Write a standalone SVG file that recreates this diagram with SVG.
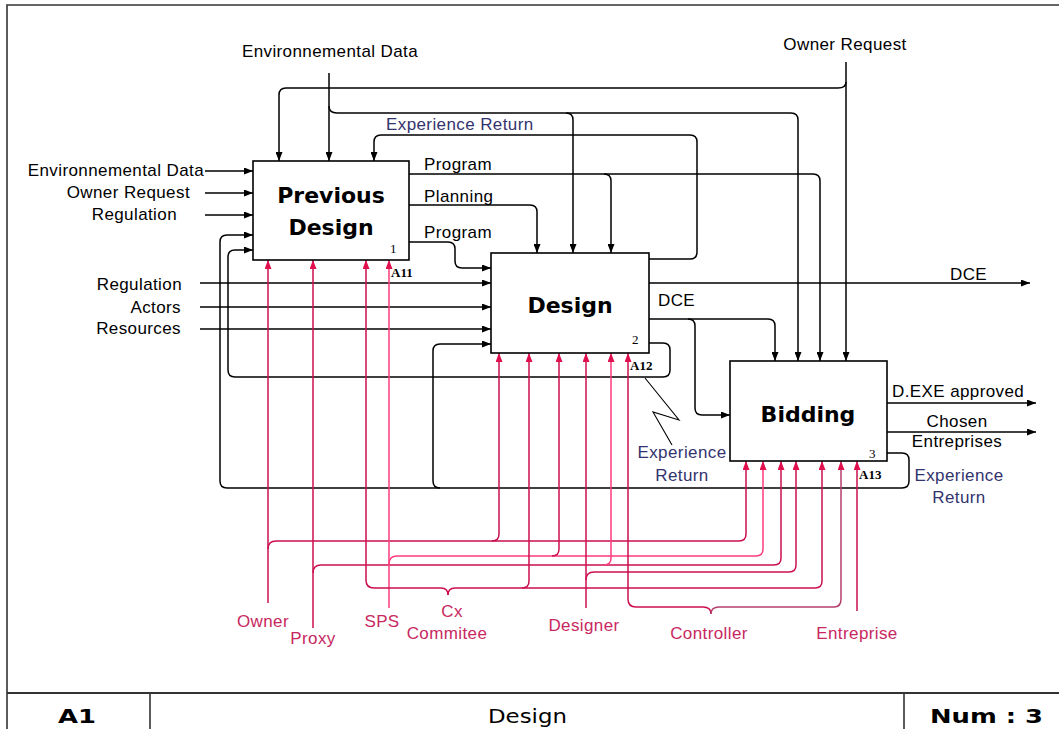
<svg xmlns="http://www.w3.org/2000/svg" width="1059" height="729" viewBox="0 0 1059 729">
<defs>
<marker id="ab" markerUnits="userSpaceOnUse" markerWidth="9" markerHeight="7" refX="9" refY="3.5" orient="auto"><path d="M0,0 L9,3.5 L0,7 z" fill="#000"/></marker>
<marker id="ar" markerUnits="userSpaceOnUse" markerWidth="9" markerHeight="7" refX="9" refY="3.5" orient="auto"><path d="M0,0 L9,3.5 L0,7 z" fill="#e0104f"/></marker>
<style>
.t{font-family:"Liberation Sans",Arial,sans-serif;font-size:17px;letter-spacing:0.4px;fill:#000}
.b{fill:#33336e}
.r{fill:#c8285f}
.box{fill:#fff;stroke:#000;stroke-width:1.6}
.title{font-family:"DejaVu Sans",Verdana,sans-serif;font-weight:bold;font-size:22px;fill:#000;text-anchor:middle}
.num{font-family:"Liberation Serif","Times New Roman",serif;font-size:13px;fill:#000}
.ref{font-family:"Liberation Serif","Times New Roman",serif;font-size:13px;font-weight:bold;fill:#000}
.k{fill:none;stroke:#000;stroke-width:1.5}
.ka{fill:none;stroke:#000;stroke-width:1.5;marker-end:url(#ab)}
.m{fill:none;stroke:#cc0f4f;stroke-width:1.5}
.ma{fill:none;stroke:#cc0f4f;stroke-width:1.5;marker-end:url(#ar)}
.p{stroke:#ff3c7c}
.q{stroke:#b4406e}
.mid{text-anchor:middle}
.end{text-anchor:end}
.foot{font-family:"DejaVu Sans",Verdana,sans-serif;font-size:19px;fill:#000}
</style>
</defs>
<rect x="0" y="0" width="1059" height="729" fill="#fff"/>
<g id="frame" fill="none" stroke="#333" stroke-width="1.6">
<path d="M7,729 V5 H1059"/>
<path d="M7,693 H1059" stroke-width="2"/>
<path d="M150,693 V729 M904,693 V729"/>
</g>
<g id="footer">
<text class="foot" x="58" y="723" font-weight="bold" textLength="38" lengthAdjust="spacingAndGlyphs">A1</text>
<text class="foot" x="488" y="723" textLength="79" lengthAdjust="spacingAndGlyphs">Design</text>
<text class="foot" x="930" y="723" font-weight="bold" textLength="113" lengthAdjust="spacingAndGlyphs">Num : 3</text>
</g>
<g id="connectors">
<path class="ka" d="M329,73 V161"/>
<path class="ka" d="M329,106 Q329,113 337,113 H791 Q798,113 798,120 V361"/>
<path class="ka" d="M566,113 Q573,113 573,120 V253"/>
<path class="ka" d="M846,62 V361"/>
<path class="ka" d="M846,82 Q846,88 838,88 H286 Q279,88 279,95 V161"/>
<path class="ka" d="M409,174 H813 Q820,174 820,181 V361"/>
<path class="ka" d="M604,174 Q611,174 611,181 V253"/>
<path class="ka" d="M409,205 H530 Q537,205 537,212 V253"/>
<path class="ka" d="M409,242 H448 Q455,242 455,249 V261 Q455,268 462,268 H491"/>
<path class="ka" d="M205,171 H253"/>
<path class="ka" d="M205,193 H253"/>
<path class="ka" d="M205,215 H253"/>
<path class="ka" d="M200,283 H491"/>
<path class="ka" d="M200,307 H491"/>
<path class="ka" d="M200,329 H491"/>
<path class="ka" d="M887,453 H902 Q909,453 909,460 V481 Q909,488 902,488 H227 Q220,488 220,481 V242 Q220,235 227,235 H253"/>
<path class="ka" d="M440,488 Q433,488 433,481 V351 Q433,344 440,344 H491"/>
<path class="ka" d="M649,343 H663 Q670,343 670,350 V370 Q670,377 663,377 H235 Q228,377 228,370 V257 Q228,250 235,250 H253"/>
<path class="ka" d="M649,259 H690 Q697,259 697,252 V142 Q697,135 690,135 H381 Q374,135 374,142 V161"/>
<path fill="none" stroke="#000" stroke-width="1.1" d="M645,378 L679,420 L653,412 L672,445"/>
<path class="ka" d="M649,283 H1030"/>
<path class="ka" d="M649,319 H768 Q775,319 775,326 V361"/>
<path class="ka" d="M688,319 Q695,319 695,326 V408 Q695,415 702,415 H730"/>
<path class="ka" d="M887,403 H1036"/>
<path class="ka" d="M887,432 H1036"/>
<path class="ma" d="M268,603 V260"/>
<path class="ma" d="M268,549 Q268,541 276,541 H739 Q746,541 746,534 V461"/>
<path class="ma" d="M492,541 Q499,541 499,534 V353"/>
<path class="ma" d="M313,628 V260"/>
<path class="ma" d="M313,573 Q313,565 321,565 H774 Q781,565 781,558 V461"/>
<path class="ma p" d="M604,565 Q611,565 611,558 V353"/>
<path class="ma p" d="M389,608 V260"/>
<path class="ma p" d="M389,564 Q389,556 397,556 H756 Q763,556 763,549 V461"/>
<path class="ma" d="M552,556 Q559,556 559,549 V353"/>
<path class="ma" d="M448,595 Q448,588 441,588 H374 Q366,588 366,580 V260"/>
<path class="ma" d="M448,595 Q448,588 455,588 H815 Q822,588 822,581 V461"/>
<path class="ma" d="M522,588 Q529,588 529,581 V353"/>
<path class="ma" d="M586,608 V353"/>
<path class="ma" d="M586,580 Q586,572 594,572 H789 Q796,572 796,565 V461"/>
<path class="ma" d="M711,614 Q711,607 703,607 H636 Q628,607 628,599 V353"/>
<path class="ma q" d="M711,614 Q711,607 719,607 H834 Q841,607 841,599 V461"/>
<path class="ma" d="M857,611 V461"/>
</g>
<g id="node-previous-design">
<rect class="box" x="253" y="161" width="156" height="99"/>
<text class="title" x="331" y="203">Previous</text>
<text class="title" x="331" y="235">Design</text>
<text class="num" x="390" y="253">1</text>
<text class="ref" x="391" y="277">A11</text>
</g>
<g id="node-design">
<rect class="box" x="491" y="253" width="158" height="100"/>
<text class="title" x="570" y="313">Design</text>
<text class="num" x="632" y="344">2</text>
<text class="ref" x="630" y="370">A12</text>
</g>
<g id="node-bidding">
<rect class="box" x="730" y="361" width="157" height="100"/>
<text class="title" x="808" y="422">Bidding</text>
<text class="num" x="869" y="458">3</text>
<text class="ref" x="859" y="479">A13</text>
</g>
<g id="labels">
<text class="t mid" x="330" y="57">Environnemental Data</text>
<text class="t mid" x="845" y="50">Owner Request</text>
<text class="t b" x="386" y="130">Experience Return</text>
<text class="t end" x="204" y="176">Environnemental Data</text>
<text class="t end" x="190" y="198">Owner Request</text>
<text class="t end" x="177" y="220">Regulation</text>
<text class="t end" x="182" y="290">Regulation</text>
<text class="t end" x="181" y="313">Actors</text>
<text class="t end" x="181" y="334">Resources</text>
<text class="t" x="424" y="170">Program</text>
<text class="t" x="424" y="202">Planning</text>
<text class="t" x="424" y="238">Program</text>
<text class="t" x="658" y="306">DCE</text>
<text class="t" x="950" y="280">DCE</text>
<text class="t" x="892" y="397">D.EXE approved</text>
<text class="t mid" x="957" y="427">Chosen</text>
<text class="t mid" x="957" y="447">Entreprises</text>
<text class="t b mid" x="959" y="481">Experience</text>
<text class="t b mid" x="959" y="503">Return</text>
<text class="t b mid" x="682" y="458">Experience</text>
<text class="t b mid" x="682" y="481">Return</text>
<text class="t r mid" x="263" y="627">Owner</text>
<text class="t r mid" x="313" y="644">Proxy</text>
<text class="t r mid" x="382" y="627">SPS</text>
<text class="t r mid" x="452" y="617">Cx</text>
<text class="t r mid" x="447" y="639">Commitee</text>
<text class="t r mid" x="584" y="631">Designer</text>
<text class="t r mid" x="709" y="639">Controller</text>
<text class="t r mid" x="857" y="639">Entreprise</text>
</g>
</svg>
